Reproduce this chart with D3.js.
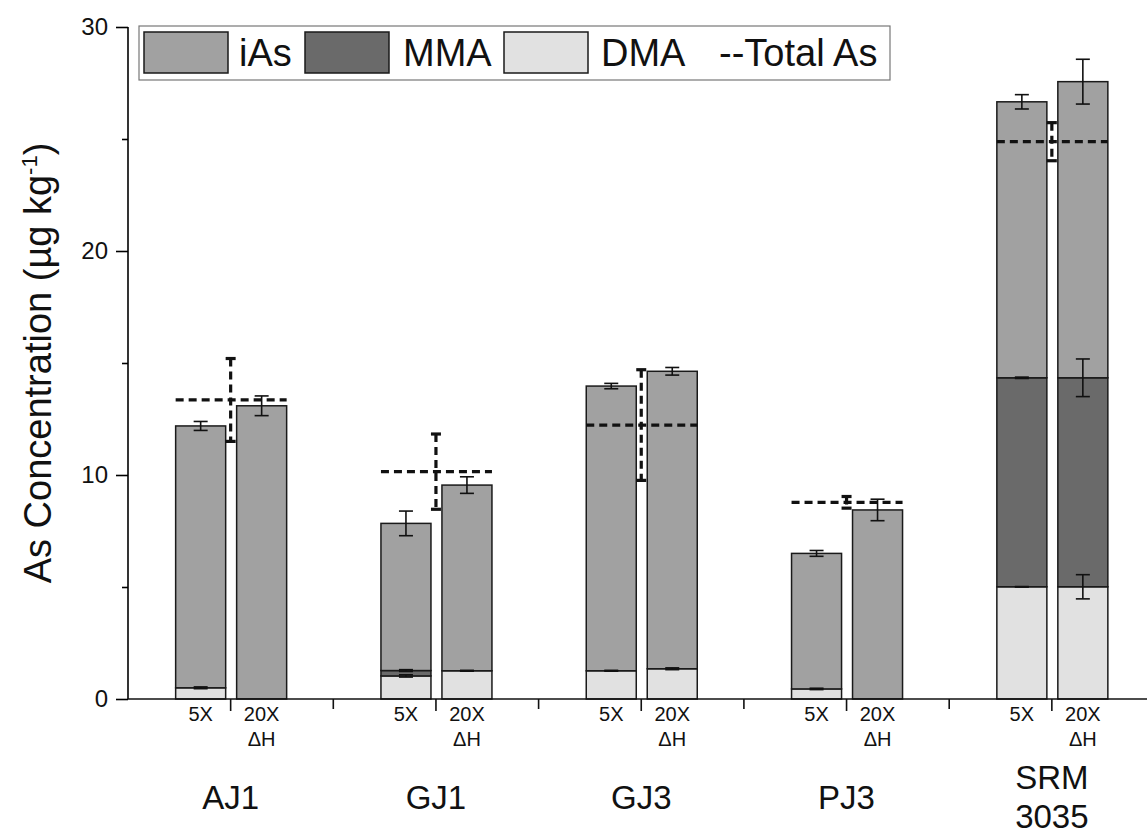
<!DOCTYPE html>
<head>
  <meta charset="utf-8">
  <title>As species</title>
  <style>
    body { margin: 0; background: #fff; }
    text { font-family: "Liberation Sans", Arial, sans-serif; fill: #111; }
  </style>
</head>
<body>
<script src="https://d3js.org/d3.v7.min.js"></script>
<script>
  // values (µg/kg)
  const groups = ["AJ1", "GJ1", "GJ3", "PJ3", "SRM 3035"];
  const methods = ["5X", "20X"];

  // one entry per bar: AJ1 5X, AJ1 20X, GJ1 5X, ...
  const dma    = [0.50, 0.00, 1.03, 1.26, 1.26, 1.35, 0.45, 0.00, 5.01, 5.01];
  const mma    = [0.00, 0.00, 0.24, 0.00, 0.00, 0.00, 0.00, 0.00, 9.33, 9.33];
  const ias    = [11.69, 13.09, 6.57, 8.29, 12.71, 13.28, 6.05, 8.44, 12.32, 13.22];
  const dmaErr = [0.04, 0.00, 0.05, 0.02, 0.02, 0.04, 0.03, 0.00, 0.01, 0.54];
  const mmaErr = [0.00, 0.00, 0.04, 0.00, 0.00, 0.00, 0.00, 0.00, 0.03, 0.84];
  const iasErr = [0.20, 0.44, 0.55, 0.37, 0.12, 0.17, 0.13, 0.48, 0.32, 1.00];

  const totalAs    = [13.35, 10.15, 12.23, 8.78, 24.88];
  const totalAsErr = [1.85, 1.68, 2.47, 0.26, 0.85];

  const yTicks = [0, 10, 20, 30];
  const yMinor = [5, 15, 25];

  const species = ["iAs", "MMA", "DMA"];
  const fills = { iAs: "#a1a1a1", MMA: "#6a6a6a", DMA: "#e1e1e1" };

  const W = 1147, H = 835;
  const svg = d3.select("body").append("svg").attr("width", W).attr("height", H);

  const x0 = d3.scaleBand().domain(groups).range([128, 1154.5]).padding(0);
  const bw = x0.bandwidth();
  const x1 = d3.scaleBand().domain(methods).range([bw / 2 - 55, bw / 2 + 56]).paddingInner(0.18);
  const y = d3.scaleLinear().domain([0, 30]).range([699, 27]);

  // build bar rows
  const bars = [];
  groups.forEach((g, gi) => methods.forEach((m, mi) => {
    const i = gi * 2 + mi;
    bars.push({ g, m, i, DMA: dma[i], MMA: mma[i], iAs: ias[i],
      err: { DMA: dmaErr[i], MMA: mmaErr[i], iAs: iasErr[i] } });
  }));
  const stack = d3.stack().keys(["DMA", "MMA", "iAs"])(bars);

  const plot = svg.append("g");
  stack.forEach(layer => {
    plot.append("g").selectAll("rect").data(layer).enter().append("rect")
      .attr("x", d => x0(d.data.g) + x1(d.data.m))
      .attr("width", x1.bandwidth())
      .attr("y", d => y(d[1]))
      .attr("height", d => y(d[0]) - y(d[1]))
      .attr("fill", fills[layer.key])
      .attr("stroke", d => d[1] > d[0] ? "#1a1a1a" : "none")
      .attr("stroke-width", 1.5);
  });

  // error bars at the top of each segment
  const eb = plot.append("g").attr("stroke", "#111").attr("stroke-width", 1.6);
  stack.forEach(layer => {
    layer.forEach(d => {
      const e = d.data.err[layer.key];
      if (d[1] <= d[0] || e <= 0) return;
      const cx = x0(d.data.g) + x1(d.data.m) + x1.bandwidth() / 2;
      const top = y(d[1] + e), bot = y(d[1] - e);
      eb.append("line").attr("x1", cx).attr("x2", cx).attr("y1", top).attr("y2", bot);
      eb.append("line").attr("x1", cx - 7).attr("x2", cx + 7).attr("y1", top).attr("y2", top);
      eb.append("line").attr("x1", cx - 7).attr("x2", cx + 7).attr("y1", bot).attr("y2", bot);
    });
  });

  // total As dashed lines with dashed error bars
  const tot = plot.append("g").attr("stroke", "#111").attr("stroke-width", 3.2);
  groups.forEach((g, gi) => {
    const xl = x0(g) + x1("5X"), xr = x0(g) + x1("20X") + x1.bandwidth();
    const cx = x0(g) + bw / 2;
    tot.append("line").attr("x1", xl).attr("x2", xr)
      .attr("y1", y(totalAs[gi])).attr("y2", y(totalAs[gi]))
      .attr("stroke-dasharray", "8,5");
    const top = y(totalAs[gi] + totalAsErr[gi]), bot = y(totalAs[gi] - totalAsErr[gi]);
    tot.append("line").attr("x1", cx).attr("x2", cx).attr("y1", top).attr("y2", bot)
      .attr("stroke-dasharray", "8,5");
    tot.append("line").attr("x1", cx - 5).attr("x2", cx + 5).attr("y1", top).attr("y2", top);
    tot.append("line").attr("x1", cx - 5).attr("x2", cx + 5).attr("y1", bot).attr("y2", bot);
  });

  // y axis
  const yAxis = svg.append("g").attr("transform", "translate(128,0)")
    .call(d3.axisLeft(y).tickValues(yTicks).tickSize(12).tickPadding(8));
  yAxis.select(".domain").attr("stroke-width", 1.6).attr("d", "M0,699V27");
  yAxis.selectAll(".tick line").attr("stroke-width", 1.6);
  yAxis.selectAll("text").style("font-size", "24px").attr("fill", "#111");
  svg.append("g").attr("transform", "translate(128,0)")
    .call(d3.axisLeft(y).tickValues(yMinor).tickSize(6).tickFormat(""))
    .call(g => g.select(".domain").remove())
    .selectAll("line").attr("stroke-width", 1.6);

  // x axis
  const xa = svg.append("g").attr("stroke", "#111").attr("stroke-width", 1.6);
  xa.append("line").attr("x1", 128).attr("x2", W).attr("y1", 699).attr("y2", 699);
  groups.forEach((g, gi) => {
    const cx = x0(g) + bw / 2;
    xa.append("line").attr("x1", cx).attr("x2", cx).attr("y1", 699).attr("y2", 711);
    if (gi > 0) xa.append("line").attr("x1", x0(g)).attr("x2", x0(g)).attr("y1", 699).attr("y2", 709);
  });

  const lab = svg.append("g");
  groups.forEach((g, gi) => {
    const c5 = x0(g) + x1("5X") + x1.bandwidth() / 2;
    const c20 = x0(g) + x1("20X") + x1.bandwidth() / 2;
    lab.append("text").attr("x", c5).attr("y", 721).attr("text-anchor", "middle")
      .style("font-size", "20px").text("5X");
    lab.append("text").attr("x", c20).attr("y", 721).attr("text-anchor", "middle")
      .style("font-size", "20px").text("20X");
    lab.append("text").attr("x", c20).attr("y", 746).attr("text-anchor", "middle")
      .style("font-size", "20px").text("ΔH");
    const cx = x0(g) + bw / 2;
    const parts = g.split(" ");
    const t = lab.append("text").attr("text-anchor", "middle").style("font-size", "33px");
    if (parts.length === 1) {
      t.attr("x", cx).attr("y", 809).text(g);
    } else {
      parts.forEach((p, k) => t.append("tspan").attr("x", cx).attr("y", 789 + k * 39).text(p));
    }
  });

  // y title
  const yt = svg.append("text")
    .attr("transform", "translate(51,363) rotate(-90)")
    .attr("text-anchor", "middle").style("font-size", "38px");
  yt.append("tspan").text("As Concentration (µg kg");
  yt.append("tspan").attr("dy", -14).style("font-size", "22px").text("-1");
  yt.append("tspan").attr("dy", 14).text(")");

  // legend
  const lg = svg.append("g");
  lg.append("rect").attr("x", 139).attr("y", 26).attr("width", 751).attr("height", 54)
    .attr("fill", "#fff").attr("stroke", "#777").attr("stroke-width", 1.2);
  const sw = [[144, 239], [305, 403], [504, 601]];
  species.forEach((s, k) => {
    lg.append("rect").attr("x", sw[k][0]).attr("y", 32).attr("width", 84).attr("height", 41)
      .attr("fill", fills[s]).attr("stroke", "#1a1a1a").attr("stroke-width", 1.5);
    lg.append("text").attr("x", sw[k][1]).attr("y", 66).style("font-size", "38px").text(s);
  });
  lg.append("text").attr("x", 719).attr("y", 66).style("font-size", "38px").text("--Total As");
</script>
</body>
</html>
